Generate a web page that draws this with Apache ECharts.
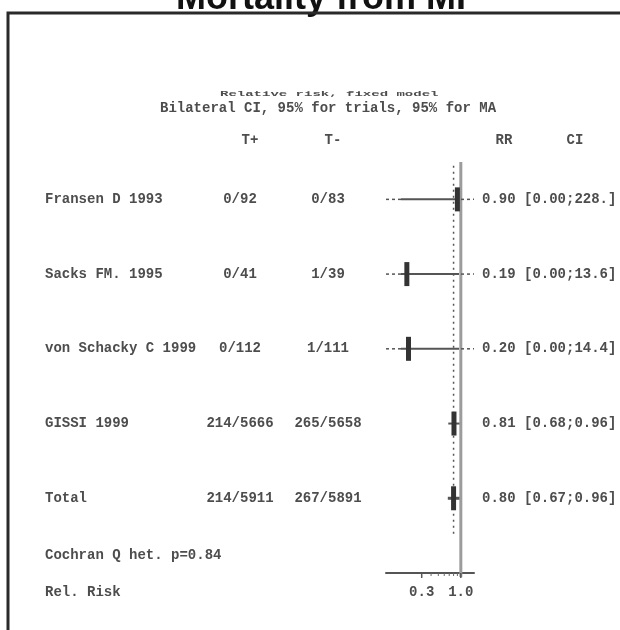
<!DOCTYPE html>
<html>
<head>
<meta charset="utf-8">
<style>
  html, body { margin: 0; padding: 0; background: #fff; }
  #chart { width: 620px; height: 630px; }
</style>
<script src="https://cdn.jsdelivr.net/npm/echarts@6/dist/echarts.min.js"></script>
</head>
<body>
<div id="chart"></div>
<script>
// trials + pooled result
const studies = ["Fransen D 1993", "Sacks FM. 1995", "von Schacky C 1999", "GISSI 1999", "Total"];
const tPlus = ["0/92", "0/41", "0/112", "214/5666", "214/5911"];
const tMinus = ["0/83", "1/39", "1/111", "265/5658", "267/5891"];
const rr = [0.90, 0.19, 0.20, 0.81, 0.80];
const ciLow = [0.00, 0.00, 0.00, 0.68, 0.67];
const ciHigh = [228, 13.6, 14.4, 0.96, 0.96];
const ciLabels = ["[0.00;228.]", "[0.00;13.6]", "[0.00;14.4]", "[0.68;0.96]", "[0.67;0.96]"];
const pooled = 0.80;
const refValue = 1.0;
// axis
const majorTicks = [0.3, 1.0];
const majorLabels = ["0.3", "1.0"];
const minorTicks = [0.4, 0.5, 0.6, 0.7, 0.8, 0.9];

const X_MIN = 0.1;
const X_MAX = 1.5;
const ROW_MAX = 5;
const FONT = { fontFamily: '"Liberation Mono", "DejaVu Sans Mono", monospace', fontWeight: "bold", fontSize: 14 };
const INK = "#4d4d4d";

const txt = (x, y, s, align) => ({
  type: "text",
  x: x,
  y: y,
  style: Object.assign({ text: s, fill: INK, align: align || "left", verticalAlign: "middle" }, FONT),
});

const chart = echarts.init(document.getElementById("chart"));

const rowItem = (params, api) => {
  const i = params.dataIndex;
  const row = api.value(1);
  const p = api.coord([api.value(0), row]);
  const y = p[1];
  const cutL = ciLow[i] < X_MIN;
  const cutR = ciHigh[i] > X_MAX;
  const xl = api.coord([Math.max(ciLow[i], X_MIN), row])[0];
  const xr = api.coord([Math.min(ciHigh[i], X_MAX), row])[0];
  const tip = 15;
  const s0 = cutL ? xl + tip : xl;
  const s1 = cutR ? xr - tip : xr;
  const children = [];
  children.push({
    type: "line",
    shape: { x1: s0, y1: y, x2: s1, y2: y },
    style: { stroke: "#555", lineWidth: i === 4 ? 3 : 2 },
  });
  if (cutL) {
    children.push({
      type: "line",
      shape: { x1: xl, y1: y, x2: s0, y2: y },
      style: { stroke: "#555", lineWidth: 1.5, lineDash: [3, 3] },
    });
  }
  if (cutR) {
    children.push({
      type: "line",
      shape: { x1: s1 + 2, y1: y, x2: xr, y2: y },
      style: { stroke: "#555", lineWidth: 1.5, lineDash: [3, 3] },
    });
  }
  children.push({
    type: "rect",
    shape: { x: p[0] - 2.5, y: y - 12, width: 5, height: 24 },
    style: { fill: "#333" },
  });
  children.push(txt(45, y, studies[i]));
  children.push(txt(240, y, tPlus[i], "center"));
  children.push(txt(328, y, tMinus[i], "center"));
  children.push(txt(482, y, rr[i].toFixed(2) + " " + ciLabels[i]));
  return { type: "group", children: children };
};

const refItem = (params, api) => {
  const top = api.coord([refValue, -0.5]);
  const bot = api.coord([refValue, ROW_MAX]);
  const pTop = api.coord([pooled, -0.45]);
  const pBot = api.coord([pooled, 4.5]);
  return {
    type: "group",
    children: [
      {
        type: "line",
        shape: { x1: top[0], y1: top[1], x2: bot[0], y2: bot[1] + 4 },
        style: { stroke: "#9c9c9c", lineWidth: 3 },
      },
      {
        type: "line",
        shape: { x1: pTop[0], y1: pTop[1], x2: pBot[0], y2: pBot[1] },
        style: { stroke: "#555", lineWidth: 1.5, lineDash: [2, 4] },
      },
    ],
  };
};

const majorItem = (params, api) => {
  const p = api.coord([api.value(0), ROW_MAX]);
  return {
    type: "group",
    children: [
      { type: "line", shape: { x1: p[0], y1: p[1], x2: p[0], y2: p[1] + 5 }, style: { stroke: "#555", lineWidth: 1.5 } },
      txt(p[0], p[1] + 19, majorLabels[params.dataIndex], "center"),
    ],
  };
};

const minorItem = (params, api) => {
  const p = api.coord([api.value(0), ROW_MAX]);
  return { type: "line", shape: { x1: p[0], y1: p[1], x2: p[0], y2: p[1] + 3 }, style: { stroke: "#666", lineWidth: 1 } };
};

const option = {
  backgroundColor: "#fff",
  animation: false,
  grid: { left: 386, width: 88, top: 162, bottom: 57 },
  xAxis: {
    type: "log",
    logBase: 10,
    min: X_MIN,
    max: X_MAX,
    axisLine: { show: true, onZero: false, lineStyle: { color: "#555", width: 2 } },
    axisTick: { show: false },
    axisLabel: { show: false },
    splitLine: { show: false },
  },
  yAxis: {
    type: "value",
    inverse: true,
    min: -0.5,
    max: ROW_MAX,
    show: false,
  },
  graphic: [
    {
      type: "text",
      x: 321,
      y: 17,
      style: {
        text: "Mortality from MI",
        fill: "#111",
        fontFamily: '"Liberation Sans", Arial, sans-serif',
        fontWeight: "bold",
        fontSize: 36,
        align: "center",
        verticalAlign: "bottom",
      },
    },
    {
      type: "polyline",
      shape: { points: [[8, 630], [8, 13], [620, 13]] },
      style: { stroke: "#2a2a2a", lineWidth: 3, fill: null },
    },
    Object.assign(txt(220, 94, "Relative risk, fixed model"), { scaleY: 0.45 }),
    txt(160, 108, "Bilateral CI, 95% for trials, 95% for MA"),
    txt(250, 140, "T+", "center"),
    txt(333, 140, "T-", "center"),
    txt(504, 140, "RR", "center"),
    txt(575, 140, "CI", "center"),
    txt(45, 555, "Cochran Q het. p=0.84"),
    txt(45, 592, "Rel. Risk"),
  ],
  series: [
    { type: "custom", renderItem: refItem, data: [[refValue, 0]], z: 1, silent: true },
    { type: "custom", renderItem: minorItem, data: minorTicks.map((v) => [v, ROW_MAX]), z: 2, silent: true },
    { type: "custom", renderItem: majorItem, data: majorTicks.map((v) => [v, ROW_MAX]), z: 2, silent: true },
    { type: "custom", renderItem: rowItem, data: rr.map((v, i) => [v, i]), z: 3, silent: true },
  ],
};

chart.setOption(option);
</script>
</body>
</html>
